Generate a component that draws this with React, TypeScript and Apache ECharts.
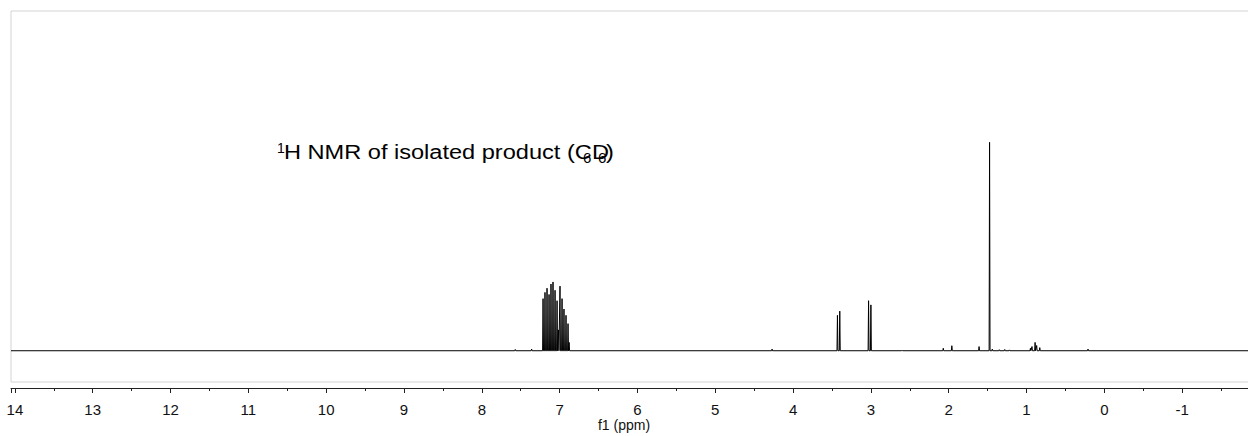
import React, { useEffect, useRef } from "react";
import * as echarts from "echarts";

// chemical shift (ppm) of each resonance line and its height (1.47 ppm line = 100)
const peakShifts: number[] = [
  7.57, 7.36,
  7.213, 7.188, 7.162, 7.136, 7.111, 7.085, 7.059, 7.033, 7.015, 6.995, 6.969, 6.944, 6.918, 6.892, 6.878,
  4.27, 3.43, 3.40, 3.03, 3.00, 2.6, 2.07, 1.96, 1.61, 1.475, 1.44, 1.35, 1.28, 1.22,
  0.95, 0.93, 0.89, 0.87, 0.83, 0.21,
];
const peakHeights: number[] = [
  0.6, 0.8,
  25, 28, 30, 27, 32, 33, 29, 24, 10, 31, 25, 20, 17, 13, 4,
  0.8, 17, 19, 24, 22, 0.3, 1.2, 2.4, 2, 100, 0.8, 0.5, 0.6, 0.4,
  1.2, 2, 4, 2.5, 1.5, 0.8,
];
const xTickValues: number[] = [-1, 0, 1, 2, 3, 4, 5, 6, 7, 8, 9, 10, 11, 12, 13, 14];
const axisTitle = "f1 (ppm)";

export default function App() {
  const ref = useRef<HTMLDivElement>(null);
  useEffect(() => {
    if (!ref.current) return;
    const chart = echarts.init(ref.current, null, { renderer: "svg" });

    // spectrum polyline built from the read line list
    const hw = 0.006;
    const pts: [number, number][] = [[14.05, 0]];
    const order = peakShifts.map((s, i) => i).sort((a, b) => peakShifts[b] - peakShifts[a]);
    for (const i of order) {
      pts.push([peakShifts[i] + hw, 0]);
      pts.push([peakShifts[i], peakHeights[i]]);
      pts.push([peakShifts[i] - hw, 0]);
    }
    pts.push([-2, 0]);

    const font = '"Liberation Sans", Arial, sans-serif';
    const cv = document.createElement("canvas").getContext("2d")!;
    const mainFs = 21;
    const mainText = "H NMR of isolated product (C";
    cv.font = `${mainFs}px ${font}`;
    const mainW = cv.measureText(mainText).width || 270;
    const sx = 308 / mainW;
    const capY = 152;

    chart.setOption({
      animation: false,
      grid: {
        left: 11,
        top: 11,
        width: 1249,
        height: 371,
        show: true,
        borderColor: "#d4d4d4",
        borderWidth: 1,
        containLabel: false,
        outerBoundsMode: "none",
      },
      xAxis: {
        type: "value",
        inverse: true,
        min: -2,
        max: 14.05,
        interval: 1,
        offset: 6,
        axisLine: { show: true, onZero: false, lineStyle: { color: "#222", width: 1 } },
        axisTick: { show: true, length: 5, lineStyle: { color: "#222" } },
        minorTick: { show: true, splitNumber: 2, length: 3, lineStyle: { color: "#222" } },
        splitLine: { show: false },
        axisLabel: {
          margin: 14,
          fontSize: 15,
          fontFamily: font,
          color: "#111",
          formatter: (v: number) => (xTickValues.includes(v) ? String(v) : ""),
        },
      },
      yAxis: { type: "value", min: -15, max: 163, show: false },
      series: [
        {
          type: "line",
          data: pts,
          showSymbol: false,
          symbol: "none",
          lineStyle: { color: "#000", width: 1 },
          clip: true,
        },
      ],
      graphic: [
        {
          type: "text",
          x: 624,
          y: 425,
          style: { text: axisTitle, font: `14px ${font}`, fill: "#111", textAlign: "center", textVerticalAlign: "middle" },
        },
        {
          type: "text",
          x: 277,
          y: capY - 4,
          style: { text: "1", font: `14px ${font}`, fill: "#000", textAlign: "left", textVerticalAlign: "middle" },
        },
        {
          type: "text",
          x: 284,
          y: capY,
          scaleX: sx,
          style: { text: mainText, font: `${mainFs}px ${font}`, fill: "#000", textAlign: "left", textVerticalAlign: "middle" },
        },
        {
          type: "text",
          x: 583,
          y: capY + 5,
          style: { text: "6", font: `15px ${font}`, fill: "#000", textAlign: "left", textVerticalAlign: "middle" },
        },
        {
          type: "text",
          x: 592,
          y: capY,
          scaleX: sx,
          style: { text: "D", font: `${mainFs}px ${font}`, fill: "#000", textAlign: "left", textVerticalAlign: "middle" },
        },
        {
          type: "text",
          x: 598,
          y: capY + 5,
          style: { text: "6", font: `15px ${font}`, fill: "#000", textAlign: "left", textVerticalAlign: "middle" },
        },
        {
          type: "text",
          x: 606,
          y: capY,
          scaleX: sx,
          style: { text: ")", font: `${mainFs}px ${font}`, fill: "#000", textAlign: "left", textVerticalAlign: "middle" },
        },
      ],
    });
    return () => chart.dispose();
  }, []);
  return (
    <div
      ref={ref}
      style={{ position: "fixed", left: 0, top: 0, width: 1248, height: 436, background: "#fff" }}
    />
  );
}
